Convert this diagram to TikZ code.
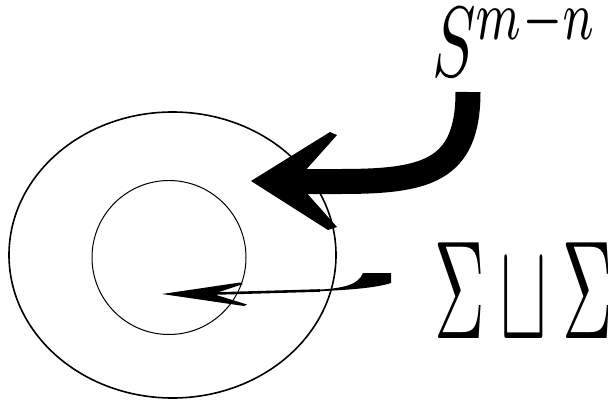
\documentclass[tikz,border=0pt]{standalone}
\usepackage{amssymb}
\usetikzlibrary{shapes.geometric}

\begin{document}
\begin{tikzpicture}[x=1pt,y=-1pt]
    \useasboundingbox (0,0) rectangle (608,402);
    % the two spheres
    \node[draw, ellipse, line width=1.6pt, minimum width=327pt, minimum height=286pt] (outer) at (172.5,255) {};
    \node[draw, circle, line width=1pt, minimum size=154pt, inner sep=0] (inner) at (169,257.5) {};
    % labels
    \node[anchor=base west, xscale=6.5, yscale=10, inner sep=0] (sph) at (431,76) {$S^{m-n}$};
    \node[anchor=base west, xscale=7, yscale=14, inner sep=0] (sig) at (433,338) {$\Sigma\sqcup\Sigma$};
    \coordinate (sph-tail) at (468,92);
    \coordinate (sph-neck) at (285,181.5);
    \coordinate (sph-tip) at (251,181);
    \coordinate (sig-tail) at (391,273);
    \coordinate (sig-mid) at (320,290.5);
    \coordinate (sig-neck) at (205,293.8);
    \coordinate (sig-tip) at (162,294);
    % thick arrow
    \draw[line width=25pt] (sph-tail) .. controls (468,172) and (425,181.5) .. (340,181.5) -- (sph-neck);
    \fill (sph-tip) -- +(79,-49) -- +(86,-46) -- +(45,0) -- +(86,46) -- +(77,49) -- cycle;
    % thin arrow
    \fill (sig-tail) -- ++(0,10) .. controls (375,288) and (350,290) .. (310,291.6)
        -- (310,290) .. controls (340,289) and (358,286) .. (363,273) -- cycle;
    \draw[line width=2.6pt] (sig-mid) -- (sig-neck);
    \fill (sig-tip) -- +(78,-11.5) -- +(81,-10) -- +(51,0) -- +(85,10.5) -- +(82,12) -- cycle;
\end{tikzpicture}
\end{document}
